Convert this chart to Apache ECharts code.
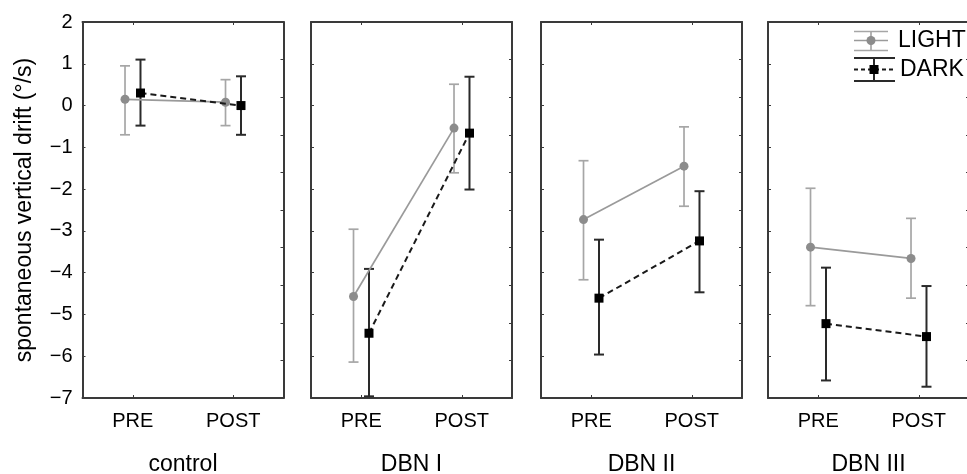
<!DOCTYPE html>
<html>
<head>
<meta charset="utf-8">
<script src="https://cdn.jsdelivr.net/npm/echarts@6/dist/echarts.min.js"></script>
<style>
  html, body { margin: 0; padding: 0; background: #fff; }
  #chart { width: 967px; height: 474px; }
</style>
</head>
<body>
<div id="chart"></div>
<script>
// groups (panels) and phases (x categories)
var groups = ['control', 'DBN I', 'DBN II', 'DBN III'];
var phases = ['PRE', 'POST'];

// LIGHT condition: mean and error bar ends, [PRE, POST] per group
var lightMean  = [[0.15, 0.08], [-4.57, -0.54], [-2.73, -1.45], [-3.39, -3.66]];
var lightUpper = [[0.95, 0.62], [-2.96, 0.51], [-1.32, -0.51], [-1.98, -2.70]];
var lightLower = [[-0.70, -0.48], [-6.14, -1.61], [-4.17, -2.41], [-4.79, -4.61]];

// DARK condition
var darkMean  = [[0.30, 0.00], [-5.45, -0.66], [-4.61, -3.24], [-5.22, -5.53]];
var darkUpper = [[1.10, 0.70], [-3.91, 0.69], [-3.21, -2.05], [-3.88, -4.32]];
var darkLower = [[-0.48, -0.70], [-6.96, -2.01], [-5.96, -4.47], [-6.58, -6.73]];

var yMin = -7, yMax = 2;

var FONT = 'Liberation Sans, Arial, sans-serif';
var TEXT = '#000';
var FRAME = '#3a3a3a';
var LIGHT_LINE = '#9a9a9a', LIGHT_DOT = '#8c8c8c', LIGHT_BAR = '#a6a6a6';
var DARK_LINE = '#1a1a1a', DARK_BAR = '#2a2a2a';

var panelLeft = [82.5, 311, 541, 768];
var panelWidth = 201;
var shift = 0.077; // horizontal dodge of the two conditions

var myChart = echarts.init(document.getElementById('chart'));

function errorBar (color, lw) {
  return function (params, api) {
    var top = api.coord([api.value(0), api.value(2)]);
    var bot = api.coord([api.value(0), api.value(1)]);
    var w = 5;
    var st = { stroke: color, lineWidth: lw };
    return {
      type: 'group',
      children: [
        { type: 'line', shape: { x1: top[0], y1: top[1], x2: bot[0], y2: bot[1] }, style: st },
        { type: 'line', shape: { x1: top[0] - w, y1: top[1], x2: top[0] + w, y2: top[1] }, style: st },
        { type: 'line', shape: { x1: bot[0] - w, y1: bot[1], x2: bot[0] + w, y2: bot[1] }, style: st }
      ]
    };
  };
}

var grid = [], xAxis = [], yAxis = [], series = [];

groups.forEach(function (g, i) {
  grid.push({ left: panelLeft[i], top: 22, width: panelWidth, height: 376, outerBoundsMode: 'none', containLabel: false });

  // bottom axis with labels + group title
  xAxis.push({
    type: 'value', gridIndex: i, min: -0.5, max: 1.5, position: 'bottom',
    name: g, nameLocation: 'middle', nameGap: 55,
    nameTextStyle: { fontFamily: FONT, fontSize: 23, color: TEXT },
    axisLine: { show: true, onZero: false, lineStyle: { color: FRAME, width: 2 } },
    axisTick: { show: true, inside: true, length: 3, customValues: [0, 1], lineStyle: { color: FRAME } },
    axisLabel: {
      show: true, customValues: [0, 1], margin: 13,
      fontFamily: FONT, fontSize: 20, color: TEXT,
      formatter: function (v) { return phases[Math.round(v)]; }
    },
    splitLine: { show: false }
  });
  // top axis (frame)
  xAxis.push({
    type: 'value', gridIndex: i, min: -0.5, max: 1.5, position: 'top',
    axisLine: { show: true, onZero: false, lineStyle: { color: FRAME, width: 2 } },
    axisTick: { show: true, inside: true, length: 3, customValues: [0, 1], lineStyle: { color: FRAME } },
    axisLabel: { show: false },
    splitLine: { show: false }
  });

  // left axis
  yAxis.push({
    type: 'value', gridIndex: i, min: yMin, max: yMax, interval: 1, position: 'left',
    name: i === 0 ? 'spontaneous vertical drift (°/s)' : '',
    nameLocation: 'middle', nameGap: 46,
    nameTextStyle: { fontFamily: FONT, fontSize: 23, color: TEXT },
    axisLine: { show: true, onZero: false, lineStyle: { color: FRAME, width: 2 } },
    axisTick: { show: true, inside: true, length: 3, lineStyle: { color: FRAME } },
    axisLabel: {
      show: i === 0, margin: 10, fontFamily: FONT, fontSize: 20, color: TEXT,
      formatter: function (v) { return String(v).replace('-', '\u2212'); }
    },
    splitLine: { show: false }
  });
  // right axis (frame, 10 divisions)
  yAxis.push({
    type: 'value', gridIndex: i, min: 0, max: 10, interval: 1, position: 'right',
    axisLine: { show: true, onZero: false, lineStyle: { color: FRAME, width: 2 } },
    axisTick: { show: true, inside: true, length: 3, lineStyle: { color: FRAME } },
    axisLabel: { show: false },
    splitLine: { show: false }
  });

  var xa = i * 2, ya = i * 2;

  series.push({
    type: 'custom', name: 'LIGHT bars', xAxisIndex: xa, yAxisIndex: ya, z: 2,
    renderItem: errorBar(LIGHT_BAR, 1.7), silent: true,
    data: phases.map(function (p, k) { return [k - shift, lightLower[i][k], lightUpper[i][k]]; })
  });
  series.push({
    type: 'custom', name: 'DARK bars', xAxisIndex: xa, yAxisIndex: ya, z: 2,
    renderItem: errorBar(DARK_BAR, 2), silent: true,
    data: phases.map(function (p, k) { return [k + shift, darkLower[i][k], darkUpper[i][k]]; })
  });
  series.push({
    type: 'line', name: 'LIGHT', xAxisIndex: xa, yAxisIndex: ya, z: 3,
    symbol: 'circle', symbolSize: 9,
    lineStyle: { color: LIGHT_LINE, width: 1.7 },
    itemStyle: { color: LIGHT_DOT },
    data: phases.map(function (p, k) { return [k - shift, lightMean[i][k]]; })
  });
  series.push({
    type: 'line', name: 'DARK', xAxisIndex: xa, yAxisIndex: ya, z: 4,
    symbol: 'rect', symbolSize: 9,
    lineStyle: { color: DARK_LINE, width: 2, type: [6, 4] },
    itemStyle: { color: '#000' },
    data: phases.map(function (p, k) { return [k + shift, darkMean[i][k]]; })
  });
});

// legend drawn as graphic (error-bar style glyphs)
var legend = [
  // LIGHT
  { type: 'line', shape: { x1: 854, y1: 31.5, x2: 888, y2: 31.5 }, style: { stroke: LIGHT_BAR, lineWidth: 1.7 } },
  { type: 'line', shape: { x1: 854, y1: 50.5, x2: 888, y2: 50.5 }, style: { stroke: LIGHT_BAR, lineWidth: 1.7 } },
  { type: 'line', shape: { x1: 854, y1: 40.5, x2: 888, y2: 40.5 }, style: { stroke: LIGHT_LINE, lineWidth: 1.7 } },
  { type: 'line', shape: { x1: 871, y1: 31.5, x2: 871, y2: 50.5 }, style: { stroke: LIGHT_BAR, lineWidth: 1.7 } },
  { type: 'circle', shape: { cx: 871, cy: 40.5, r: 4.5 }, style: { fill: LIGHT_DOT } },
  { type: 'text', x: 898, y: 41, style: { text: 'LIGHT', fontFamily: FONT, fontSize: 23, fill: TEXT, verticalAlign: 'middle' } },
  // DARK
  { type: 'line', shape: { x1: 854, y1: 58, x2: 895, y2: 58 }, style: { stroke: DARK_BAR, lineWidth: 2 } },
  { type: 'line', shape: { x1: 854, y1: 81, x2: 895, y2: 81 }, style: { stroke: DARK_BAR, lineWidth: 2 } },
  { type: 'line', shape: { x1: 854, y1: 69.5, x2: 895, y2: 69.5 }, style: { stroke: DARK_LINE, lineWidth: 2, lineDash: [4, 3] } },
  { type: 'line', shape: { x1: 874, y1: 58, x2: 874, y2: 81 }, style: { stroke: DARK_BAR, lineWidth: 2 } },
  { type: 'rect', shape: { x: 869.5, y: 65, width: 9, height: 9 }, style: { fill: '#000' } },
  { type: 'text', x: 900, y: 70, style: { text: 'DARK', fontFamily: FONT, fontSize: 23, fill: TEXT, verticalAlign: 'middle' } }
];

var option = {
  animation: false,
  backgroundColor: '#fff',
  grid: grid,
  xAxis: xAxis,
  yAxis: yAxis,
  series: series,
  graphic: legend
};

myChart.setOption(option);
</script>
</body>
</html>
